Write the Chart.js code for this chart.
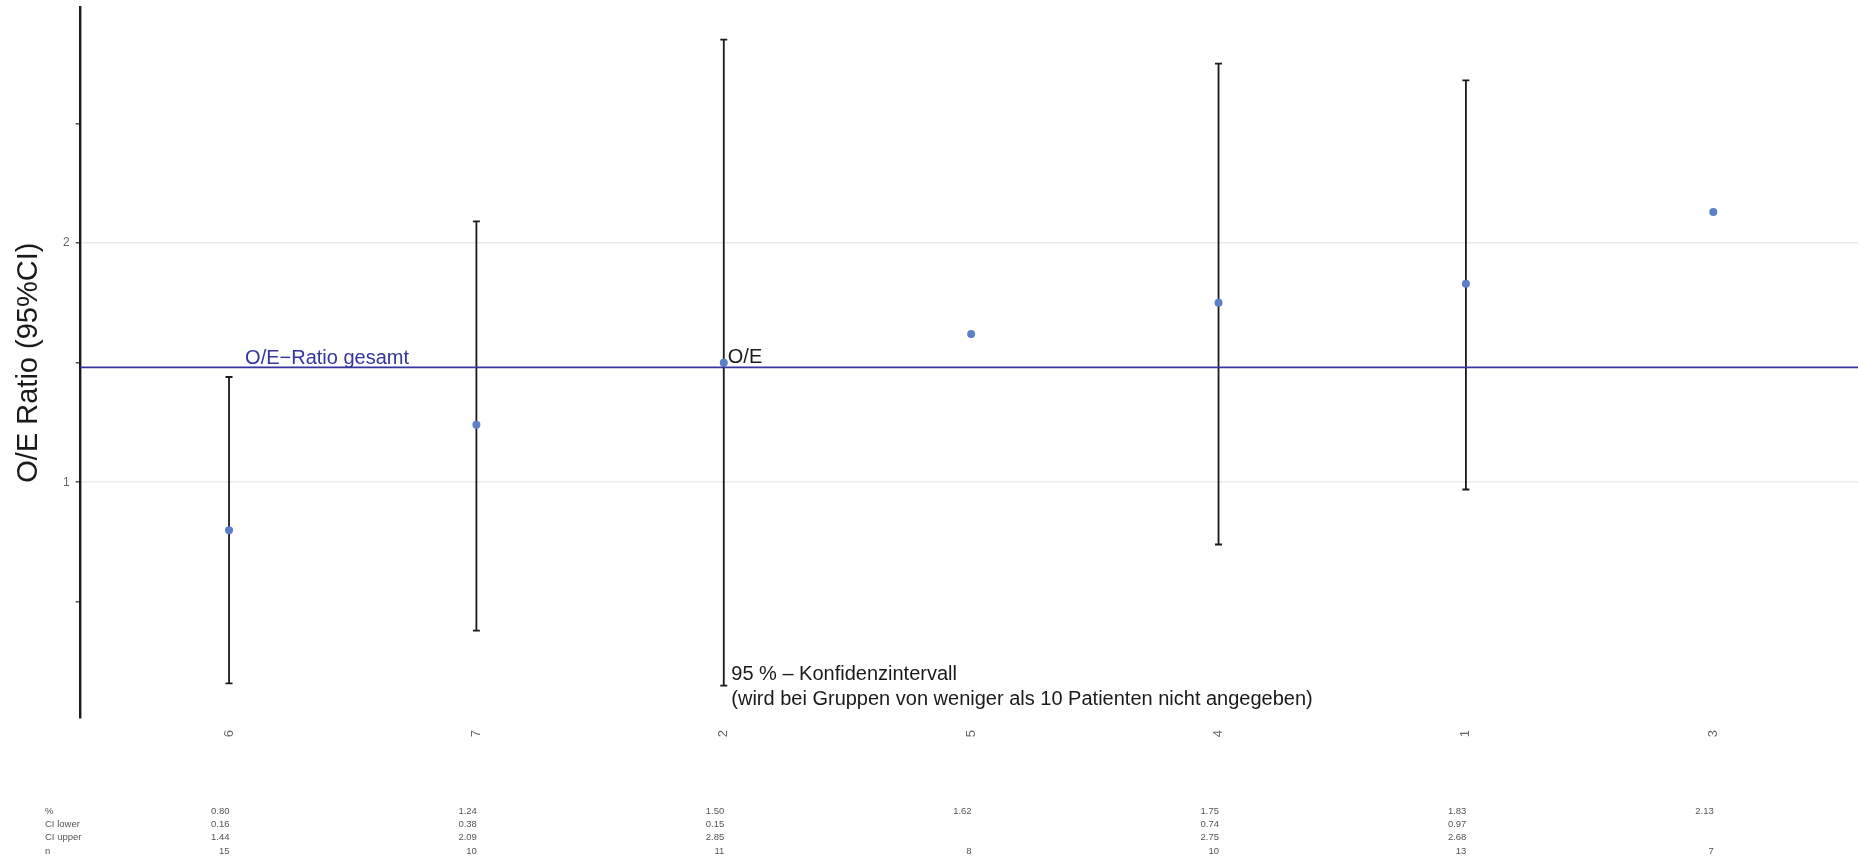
<!DOCTYPE html>
<html><head><meta charset="utf-8">
<script src="https://cdn.jsdelivr.net/npm/chart.js@4.4.1/dist/chart.umd.min.js"></script>
<style>html,body{margin:0;padding:0;background:#fff;} #wrap{width:1858px;height:859px;position:relative;}</style>
</head><body><div id="wrap"><canvas id="c"></canvas></div>
<script>
// ---- data ----
const categories = ['6', '7', '2', '5', '4', '1', '3'];
const oeValues = [0.80, 1.24, 1.50, 1.62, 1.75, 1.83, 2.13];
const ciLower = [0.16, 0.38, 0.15, null, 0.74, 0.97, null];
const ciUpper = [1.44, 2.09, 2.85, null, 2.75, 2.68, null];
const nValues = [15, 10, 11, 8, 10, 13, 7];
const overallOE = 1.48;
const yTickValues = [0.5, 1, 1.5, 2, 2.5];
const yLabelValues = [1, 2];
const tableRowLabels = ['%', 'CI lower', 'CI upper', 'n'];
const overallLabel = 'O/E\u2212Ratio gesamt';
const pointLabel = 'O/E';
const ciLabelLines = ['95 % \u2013 Konfidenzintervall', '(wird bei Gruppen von weniger als 10 Patienten nicht angegeben)'];
const yTitle = 'O/E Ratio (95%CI)';

const FONT = "'Liberation Sans', Arial, Helvetica, sans-serif";
const fmt2 = v => (v == null ? '' : v.toFixed(2));
const LINE_BLUE = '#35359F';

const overlayPlugin = {
  id: 'overlay',
  beforeDatasetsDraw(chart) {
    const { ctx, chartArea } = chart;
    const x = chart.scales.x, y = chart.scales.y;
    ctx.save();
    ctx.strokeStyle = '#1a1a1a';
    ctx.lineWidth = 1.8;
    categories.forEach((c, i) => {
      if (ciLower[i] == null || ciUpper[i] == null) return;
      const px = x.getPixelForValue(i);
      const y1 = y.getPixelForValue(ciLower[i]);
      const y2 = y.getPixelForValue(ciUpper[i]);
      ctx.beginPath();
      ctx.moveTo(px, y1); ctx.lineTo(px, y2);
      ctx.moveTo(px - 3.5, y1); ctx.lineTo(px + 3.5, y1);
      ctx.moveTo(px - 3.5, y2); ctx.lineTo(px + 3.5, y2);
      ctx.stroke();
    });
    const oy = y.getPixelForValue(overallOE);
    ctx.strokeStyle = LINE_BLUE;
    ctx.lineWidth = 1.8;
    ctx.beginPath();
    ctx.moveTo(chartArea.left, oy); ctx.lineTo(chartArea.right, oy);
    ctx.stroke();
    ctx.restore();
  },
  afterDatasetsDraw(chart) {
    const { ctx } = chart;
    const x = chart.scales.x, y = chart.scales.y;
    ctx.save();
    const oy = y.getPixelForValue(overallOE);
    ctx.font = '20px ' + FONT;
    ctx.textBaseline = 'alphabetic';
    ctx.textAlign = 'left';
    ctx.fillStyle = LINE_BLUE;
    ctx.fillText(overallLabel, x.getPixelForValue(0.065), oy - 3.4);
    const k = 2;
    const px = x.getPixelForValue(k);
    ctx.fillStyle = '#1a1a1a';
    ctx.fillText(pointLabel, px + 4, y.getPixelForValue(oeValues[k]));
    const ly = y.getPixelForValue(ciLower[k]);
    ciLabelLines.forEach((t, j) => ctx.fillText(t, px + 7.5, ly - 5.3 + j * 24.5));
    ctx.font = '9.5px ' + FONT;
    ctx.fillStyle = '#555';
    ctx.textBaseline = 'middle';
    const rows = [oeValues.map(fmt2), ciLower.map(fmt2), ciUpper.map(fmt2), nValues.map(String)];
    tableRowLabels.forEach((lab, r) => {
      const ry = 811 + r * 13.4;
      ctx.textAlign = 'left';
      ctx.fillText(lab, 45, ry);
      ctx.textAlign = 'right';
      rows[r].forEach((v, i) => ctx.fillText(v, x.getPixelForValue(i) + 0.5, ry));
    });
    ctx.restore();
  }
};

new Chart(document.getElementById('c'), {
  type: 'scatter',
  data: {
    datasets: [{
      data: oeValues.map((v, i) => ({ x: i, y: v })),
      pointRadius: 4,
      pointHoverRadius: 4,
      pointBackgroundColor: '#5B7FC8',
      pointBorderWidth: 0,
      showLine: false,
      clip: false
    }]
  },
  options: {
    responsive: true,
    maintainAspectRatio: false,
    animation: false,
    devicePixelRatio: 1,
    layout: { autoPadding: false, padding: { top: 7.3, right: 0, left: 0, bottom: 0 } },
    plugins: { legend: { display: false }, tooltip: { enabled: false } },
    scales: {
      x: {
        type: 'linear',
        min: -0.6,
        max: 6.585,
        afterBuildTicks: s => { s.ticks = categories.map((c, i) => ({ value: i })); },
        afterFit: s => { s.height = 141; s.paddingLeft = 0; s.paddingRight = 0; },
        grid: { display: false },
        border: { display: false },
        ticks: {
          autoSkip: false,
          minRotation: 90,
          maxRotation: 90,
          padding: 4,
          color: '#666',
          font: { size: 13, family: FONT },
          callback: v => categories[v] ?? ''
        }
      },
      y: {
        type: 'linear',
        min: 0.015,
        max: 2.985,
        afterBuildTicks: s => { s.ticks = yTickValues.map(v => ({ value: v })); },
        afterFit: s => { s.width = 80.6; s.paddingTop = 0; s.paddingBottom = 0; },
        border: { display: true, color: '#1a1a1a', width: 2.4 },
        grid: {
          color: c => (c.tick && yLabelValues.includes(c.tick.value) ? '#EBEBEB' : 'rgba(0,0,0,0)'),
          lineWidth: 1.6,
          tickColor: '#333',
          tickWidth: 1.3,
          tickLength: 5
        },
        ticks: {
          autoSkip: false,
          padding: 6,
          color: '#666',
          font: { size: 12, family: FONT },
          callback: v => (yLabelValues.includes(v) ? String(v) : '')
        },
        title: {
          display: true,
          text: yTitle,
          color: '#1a1a1a',
          font: { size: 29, family: FONT },
          padding: { top: 12, bottom: 0 }
        }
      }
    }
  },
  plugins: [overlayPlugin]
});
</script>
</body></html>
